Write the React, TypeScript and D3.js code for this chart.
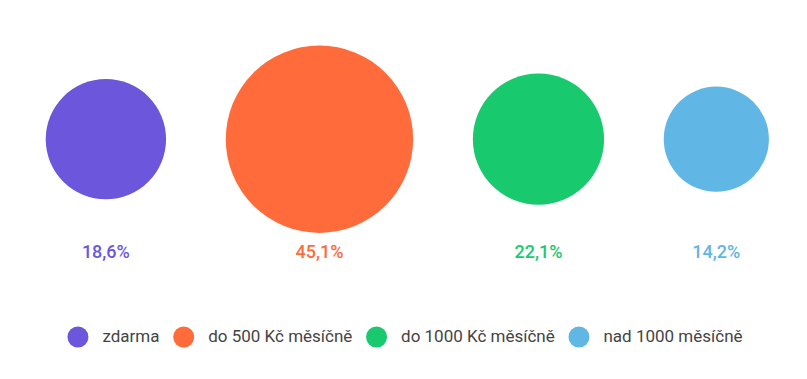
import React, { useEffect, useRef } from "react";
import * as d3 from "d3";

const categories = ["zdarma", "do 500 Kč měsíčně", "do 1000 Kč měsíčně", "nad 1000 měsíčně"];
const values = [18.6, 45.1, 22.1, 14.2];
const valueLabels = ["18,6%", "45,1%", "22,1%", "14,2%"];
const colors = ["#6C56DB", "#FF6B3B", "#19C96E", "#60B6E4"];

const W = 807;
const H = 379;

export default function App() {
  const ref = useRef<SVGSVGElement | null>(null);

  useEffect(() => {
    const svg = d3.select(ref.current);
    svg.selectAll("*").remove();

    const r = d3.scaleSqrt().domain([0, 45.1]).range([0, 93.7]);
    const gap = 59.7;
    const radii = values.map((v) => r(v));
    const total = d3.sum(radii) * 2 + gap * (values.length - 1);
    const startX = 407.3 - total / 2;
    const cx: number[] = [];
    let acc = startX;
    radii.forEach((rr) => {
      cx.push(acc + rr);
      acc += rr * 2 + gap;
    });
    const cy = 139.2;

    const g = svg.append("g");
    g.selectAll("circle.bubble")
      .data(values)
      .join("circle")
      .attr("class", "bubble")
      .attr("cx", (_, i) => cx[i])
      .attr("cy", cy)
      .attr("r", (_, i) => radii[i])
      .attr("fill", (_, i) => colors[i]);

    g.selectAll("text.val")
      .data(valueLabels)
      .join("text")
      .attr("class", "val")
      .attr("x", (_, i) => cx[i])
      .attr("y", 257.7)
      .attr("text-anchor", "middle")
      .attr("font-family", "Roboto")
      .attr("font-weight", 500)
      .attr("font-size", 18)
      .attr("fill", (_, i) => colors[i])
      .text((d) => d);

    // legend
    const lg = svg.append("g");
    const lr = 10.5;
    const textGap = 14;
    const itemGap = 13.7;
    const items = lg
      .selectAll("g.item")
      .data(categories)
      .join("g")
      .attr("class", "item");
    items
      .append("circle")
      .attr("r", lr)
      .attr("cy", 337)
      .attr("fill", (_, i) => colors[i]);
    const texts = items
      .append("text")
      .attr("y", 342.3)
      .attr("font-family", "Roboto")
      .attr("font-size", 17)
      .attr("fill", "#444")
      .text((d) => d);
    const widths: number[] = [];
    texts.each(function () {
      widths.push((this as SVGTextElement).getComputedTextLength());
    });
    const itemW = widths.map((w) => lr * 2 + textGap + w);
    const legendTotal = d3.sum(itemW) + itemGap * (categories.length - 1);
    let lx = 405 - legendTotal / 2;
    items.each(function (_, i) {
      const it = d3.select(this);
      it.select("circle").attr("cx", lx + lr);
      it.select("text").attr("x", lx + lr * 2 + textGap);
      lx += itemW[i] + itemGap;
    });
  }, []);

  return (
    <svg
      ref={ref}
      width={W}
      height={H}
      style={{ position: "absolute", left: 0, top: 0, background: "#fff" }}
    />
  );
}
